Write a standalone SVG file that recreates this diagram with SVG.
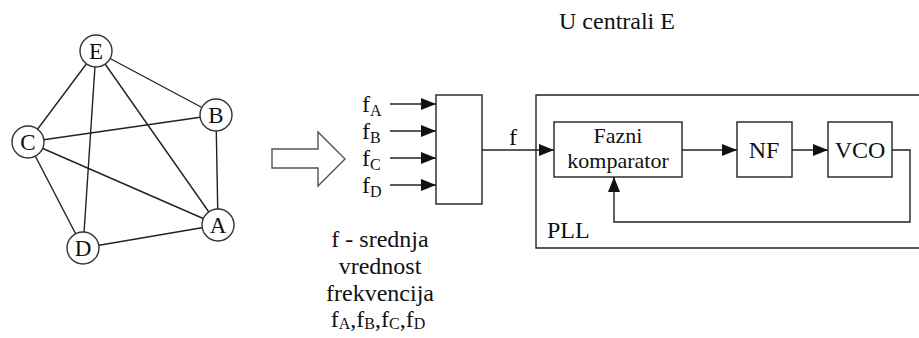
<svg xmlns="http://www.w3.org/2000/svg" width="919" height="338" viewBox="0 0 919 338" font-family="Liberation Serif, 'Times New Roman', serif" font-size="24">
<style>
text{fill:#111}
.c{text-anchor:middle}
.sub{font-size:16px}
.nl{font-size:23px}
.bx{font-size:22px}
.ln{stroke:#222;stroke-width:1.4;fill:none}
.box{stroke:#222;stroke-width:1.4;fill:#fff}
.nd{stroke:#333;stroke-width:1.4;fill:#fff}
</style>
<defs>
<marker id="ah" markerWidth="16" markerHeight="12" refX="15" refY="6" orient="auto" markerUnits="userSpaceOnUse">
<path d="M0,0 L15,6 L0,12 Z" fill="#111"/>
</marker>
</defs>
<g id="connectors">
<line class="ln" x1="96" y1="51" x2="216" y2="115"/>
<line class="ln" x1="96" y1="51" x2="28" y2="142"/>
<line class="ln" x1="96" y1="51" x2="83" y2="248"/>
<line class="ln" x1="96" y1="51" x2="218" y2="225"/>
<line class="ln" x1="216" y1="115" x2="28" y2="142"/>
<line class="ln" x1="216" y1="115" x2="218" y2="225"/>
<line class="ln" x1="28" y1="142" x2="218" y2="225"/>
<line class="ln" x1="28" y1="142" x2="83" y2="248"/>
<line class="ln" x1="83" y1="248" x2="218" y2="225"/>
<line class="ln" x1="390" y1="104" x2="436" y2="104" marker-end="url(#ah)"/>
<line class="ln" x1="390" y1="131" x2="436" y2="131" marker-end="url(#ah)"/>
<line class="ln" x1="390" y1="158" x2="436" y2="158" marker-end="url(#ah)"/>
<line class="ln" x1="390" y1="185" x2="436" y2="185" marker-end="url(#ah)"/>
<line class="ln" x1="482" y1="150" x2="554" y2="150" marker-end="url(#ah)"/>
<line class="ln" x1="682" y1="150" x2="737" y2="150" marker-end="url(#ah)"/>
<line class="ln" x1="792" y1="150" x2="828" y2="150" marker-end="url(#ah)"/>
<polyline class="ln" points="892,150 910,150 910,222 614,222 614,177" marker-end="url(#ah)"/>
</g>
<g id="node-E"><circle class="nd" cx="96" cy="51" r="16"/><text class="c nl" x="96" y="59">E</text></g>
<g id="node-B"><circle class="nd" cx="216" cy="115" r="16"/><text class="c nl" x="216" y="123">B</text></g>
<g id="node-C"><circle class="nd" cx="28" cy="142" r="16"/><text class="c nl" x="28" y="150">C</text></g>
<g id="node-A"><circle class="nd" cx="218" cy="225" r="16"/><text class="c nl" x="218" y="233">A</text></g>
<g id="node-D"><circle class="nd" cx="83" cy="248" r="16"/><text class="c nl" x="83" y="256">D</text></g>
<g id="big-arrow"><polygon points="272,149 318,149 318,132 345,159 318,186 318,168 272,168" fill="#fff" stroke="#555" stroke-width="1.4"/></g>
<g id="inputs">
<text x="362" y="112">f<tspan class="sub" dy="4">A</tspan></text>
<text x="362" y="139">f<tspan class="sub" dy="4">B</tspan></text>
<text x="362" y="166">f<tspan class="sub" dy="4">C</tspan></text>
<text x="362" y="193">f<tspan class="sub" dy="4">D</tspan></text>
</g>
<g id="mux"><rect class="box" x="436" y="95" width="46" height="109"/></g>
<text x="509" y="145">f</text>
<g id="pll"><path class="ln" d="M921,95 L536,95 L536,248 L921,248"/><text x="547" y="238">PLL</text></g>
<g id="fazni"><rect class="box" x="554" y="122" width="128" height="55"/><text class="c bx" x="618" y="143">Fazni</text><text class="c bx" x="618" y="168">komparator</text></g>
<g id="nf"><rect class="box" x="737" y="122" width="55" height="55"/><text class="c" x="764" y="158">NF</text></g>
<g id="vco"><rect class="box" x="828" y="122" width="64" height="55"/><text class="c" x="860" y="158">VCO</text></g>
<text x="559" y="29">U centrali E</text>
<g id="caption">
<text class="c" x="380" y="247">f - srednja</text>
<text class="c" x="380" y="274">vrednost</text>
<text class="c" x="380" y="301">frekvencija</text>
<text class="c" x="378" y="327">f<tspan class="sub" dy="2">A</tspan><tspan dy="-2">,f</tspan><tspan class="sub" dy="2">B</tspan><tspan dy="-2">,f</tspan><tspan class="sub" dy="2">C</tspan><tspan dy="-2">,f</tspan><tspan class="sub" dy="2">D</tspan></text>
</g>
</svg>
